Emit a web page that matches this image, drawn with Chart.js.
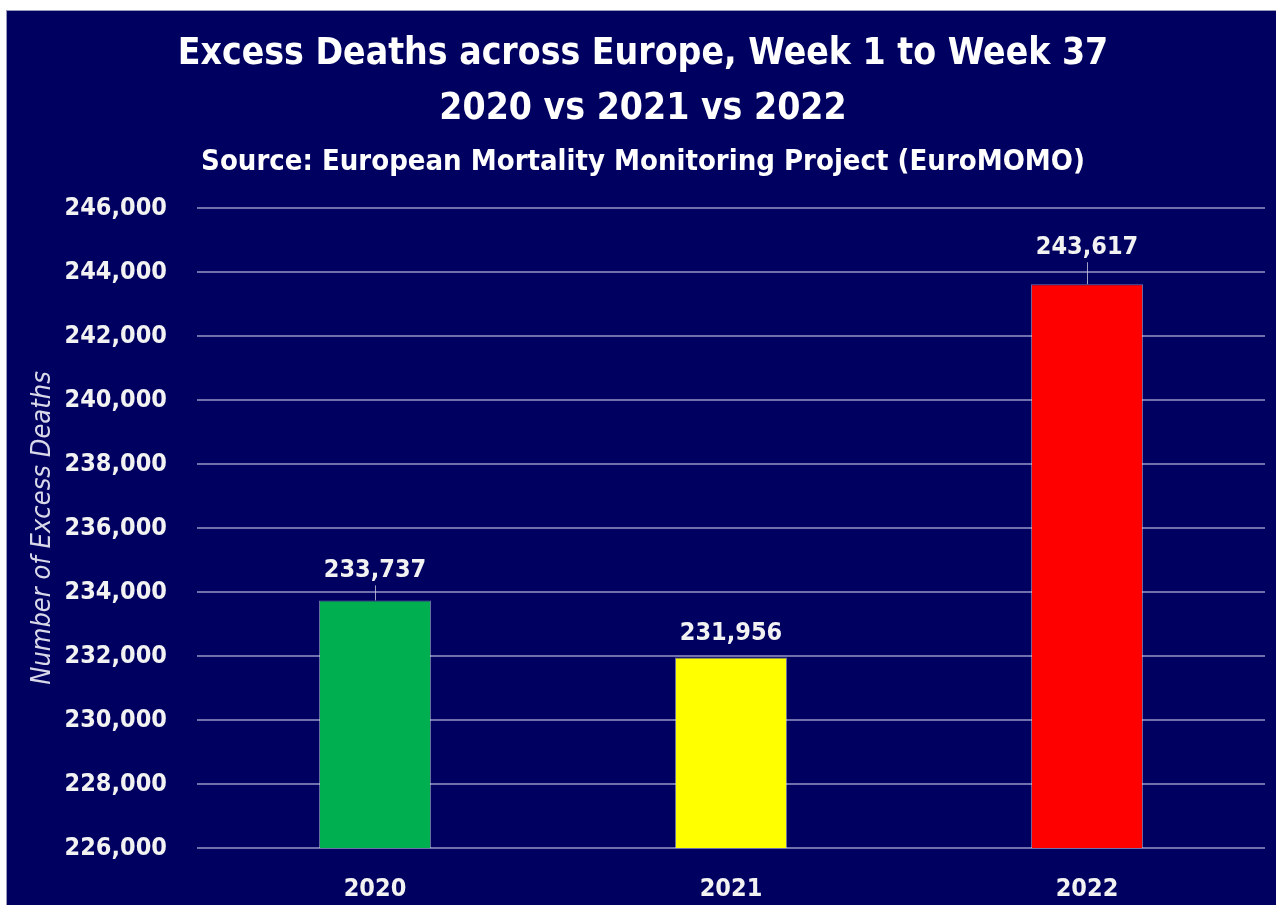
<!DOCTYPE html>
<html><head><meta charset="utf-8">
<script src="https://cdn.jsdelivr.net/npm/chart.js@4"></script>
<style>
html,body{margin:0;padding:0;background:#fff;width:1276px;height:905px;overflow:hidden;}
#wrap{position:absolute;left:6px;top:10px;width:1270px;height:895px;background:#000060;border-left:1px solid #9a9ab8;border-top:1px solid #9a9ab8;}
canvas{display:block;}
</style></head>
<body><div id="wrap"><canvas id="c" width="1269" height="894"></canvas></div>
<script>
const categories = ['2020', '2021', '2022'];
const excessDeaths = [233737, 231956, 243617];
const barColors = ['#00B050', '#FFFF00', '#FF0000'];
const titleLines = ['Excess Deaths across Europe, Week 1 to Week 37', '2020 vs 2021 vs 2022'];
const subtitleText = 'Source: European Mortality Monitoring Project (EuroMOMO)';
const yAxisTitle = 'Number of Excess Deaths';
const yMin = 226000, yMax = 246000, yStep = 2000;

const FONT = "'Liberation Sans Narrow', 'DejaVu Sans Condensed', 'Open Sans', sans-serif";
const fmt = v => Number(v).toLocaleString('en-US');

const titlePlugin = {
  id: 'titles',
  afterDraw(chart) {
    const ctx = chart.ctx;
    ctx.save();
    ctx.fillStyle = '#ffffff';
    ctx.textAlign = 'center';
    ctx.textBaseline = 'middle';
    const cx = 636;
    ctx.font = 'bold 37px ' + FONT;
    ctx.fillText(titleLines[0], cx, 43);
    ctx.fillText(titleLines[1], cx, 98);
    ctx.font = 'bold 29px ' + FONT;
    ctx.fillText(subtitleText, cx, 151);
    ctx.restore();
  }
};

const labelPlugin = {
  id: 'valueLabels',
  afterDatasetsDraw(chart, args, opts) {
    const ctx = chart.ctx;
    const meta = chart.getDatasetMeta(0);
    ctx.save();
    ctx.font = 'bold 25px ' + FONT;
    ctx.fillStyle = '#f2f2f2';
    ctx.textAlign = 'center';
    ctx.textBaseline = 'middle';
    meta.data.forEach((bar, i) => {
      const off = opts.offsets[i];
      const y = bar.y - off;
      ctx.fillText(fmt(chart.data.datasets[0].data[i]), bar.x, y);
      if (off > 26) {
        ctx.strokeStyle = 'rgba(200,200,220,0.8)';
        ctx.lineWidth = 1;
        ctx.beginPath();
        ctx.moveTo(bar.x + 0.5, y + 15);
        ctx.lineTo(bar.x + 0.5, bar.y);
        ctx.stroke();
      }
    });
    ctx.restore();
  }
};

new Chart(document.getElementById('c'), {
  type: 'bar',
  data: {
    labels: categories,
    datasets: [{
      data: excessDeaths,
      backgroundColor: barColors,
      borderColor: 'rgba(255,255,255,0.45)',
      borderWidth: 1,
      barPercentage: 0.63,
      categoryPercentage: 0.5
    }]
  },
  options: {
    responsive: false,
    animation: false,
    devicePixelRatio: 1,
    layout: { padding: { top: 197, right: 11, left: 0, bottom: 0 } },
    plugins: {
      legend: { display: false },
      title: { display: false },
      tooltip: { enabled: false },
      valueLabels: { offsets: [30, 24, 37] }
    },
    scales: {
      x: {
        grid: { display: false, drawTicks: false },
        border: { display: false },
        ticks: { color: '#f2f2f2', font: { family: FONT, size: 25, weight: 'bold' }, padding: 26 },
        afterFit(s) { s.height = 57; }
      },
      y: {
        min: yMin, max: yMax,
        ticks: { stepSize: yStep, color: '#f2f2f2', font: { family: FONT, size: 25, weight: 'bold' }, padding: 30, callback: v => fmt(v) },
        grid: { color: 'rgba(150,150,200,0.75)', lineWidth: 2, drawTicks: false },
        border: { display: false },
        title: { display: true, text: yAxisTitle, color: '#d8d8e8', font: { family: FONT, size: 27, style: 'italic' }, padding: { top: 20, bottom: 0 } },
        afterFit(s) { s.width = 190; }
      }
    }
  },
  plugins: [titlePlugin, labelPlugin]
});
</script>
</body></html>
